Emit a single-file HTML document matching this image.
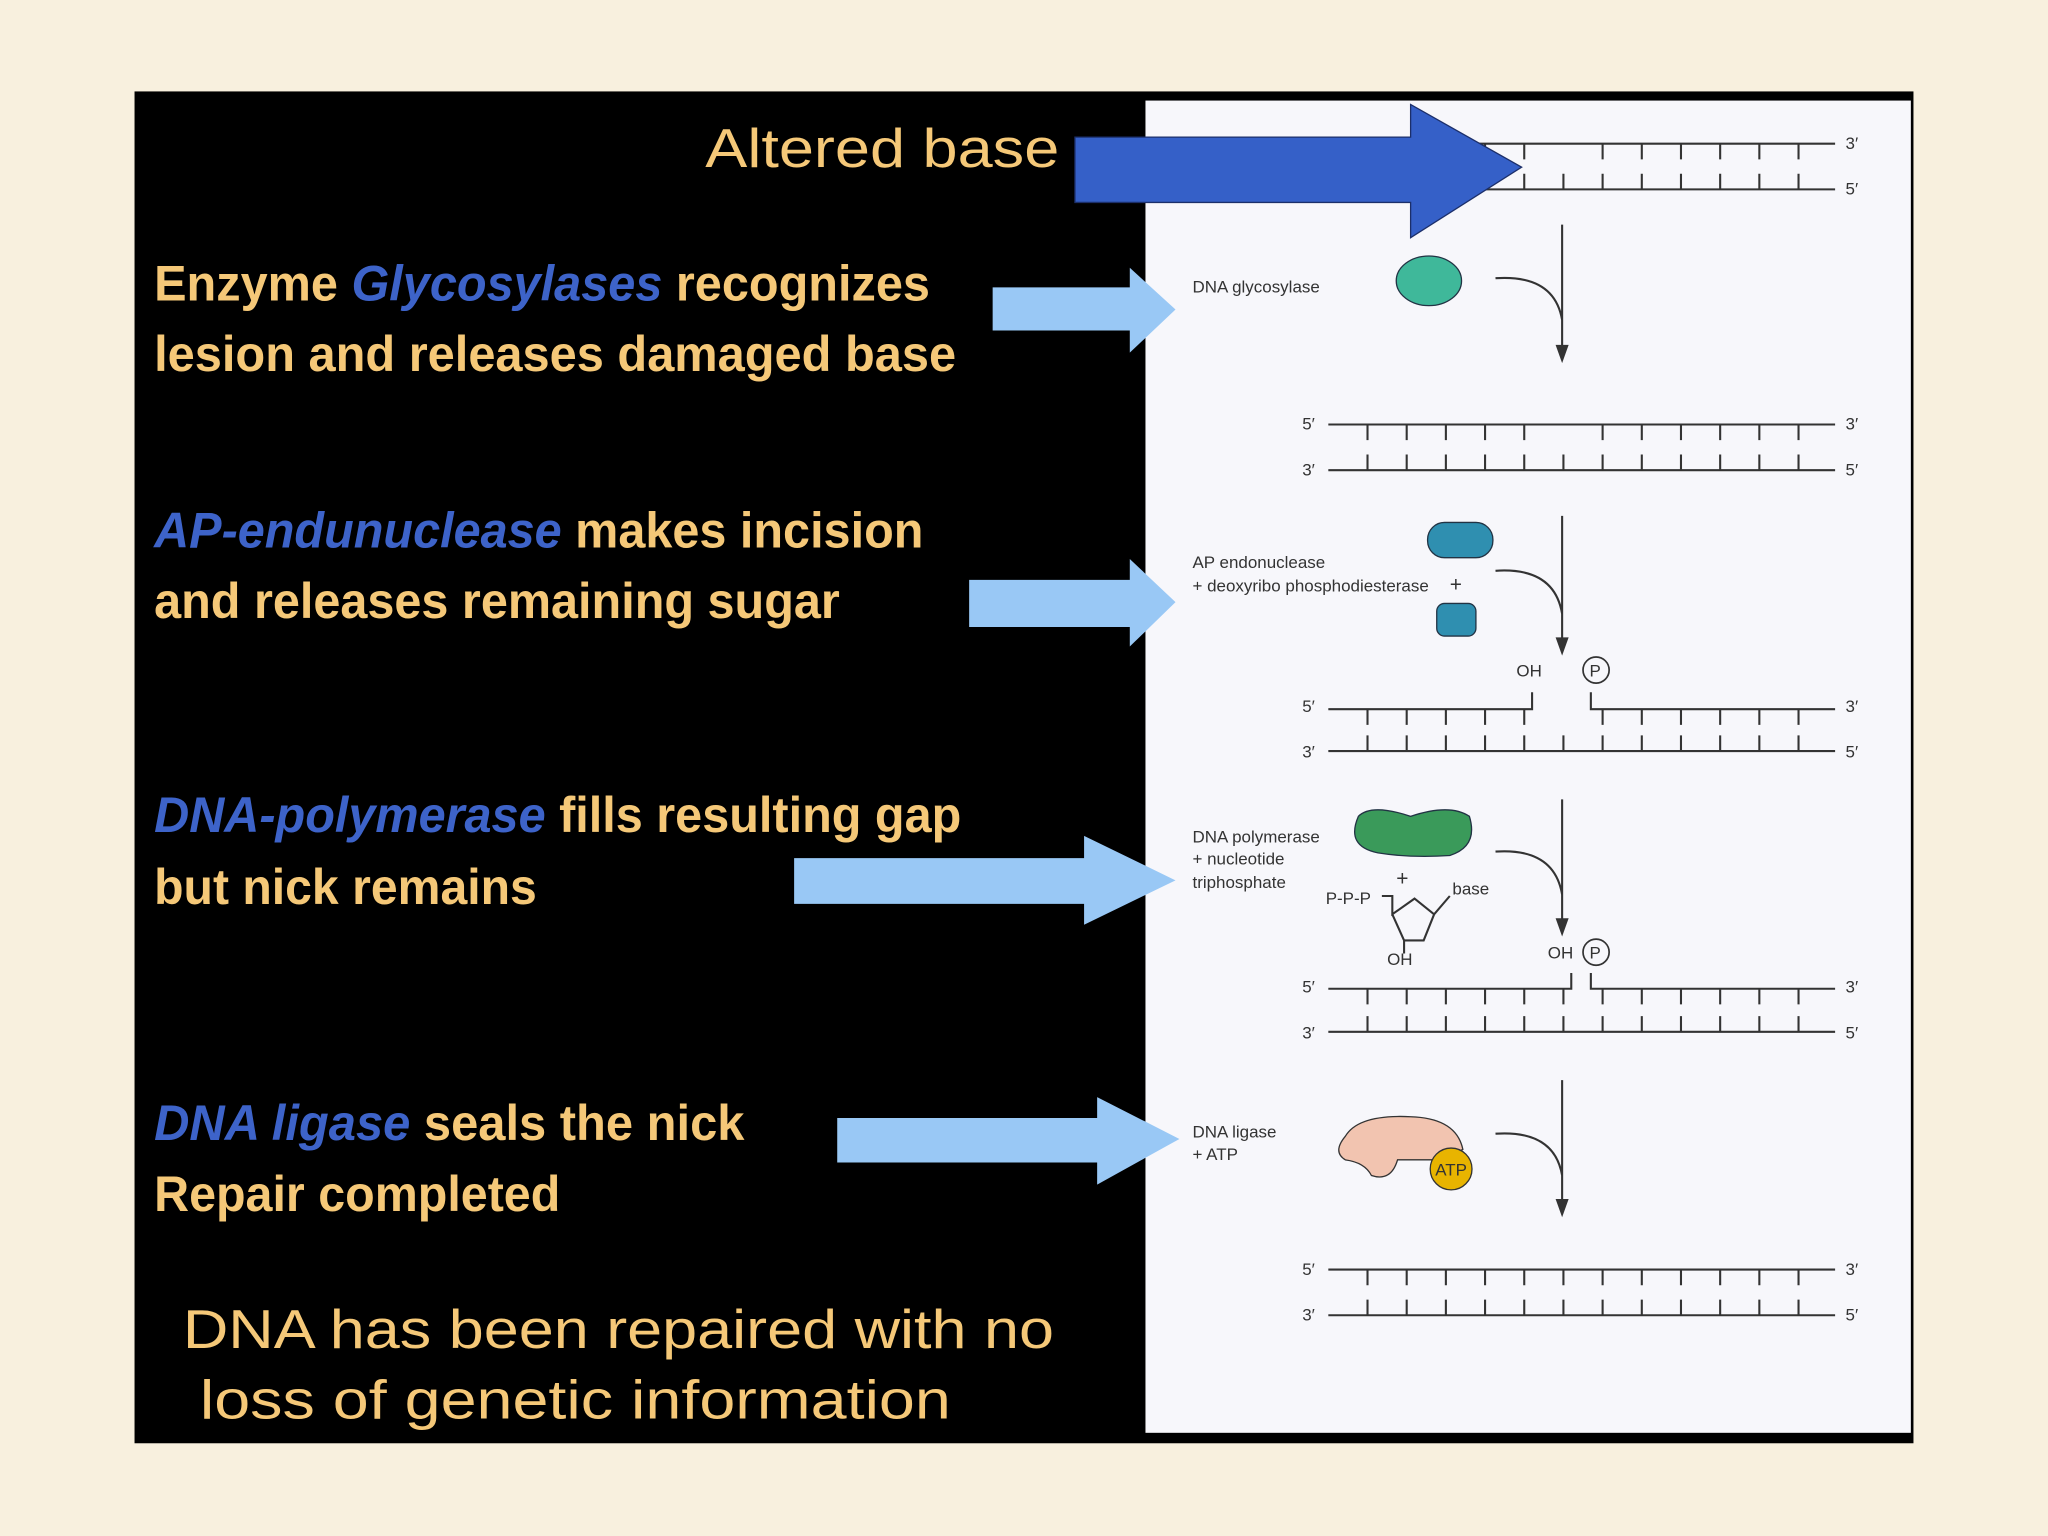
<!DOCTYPE html>
<html><head><meta charset="utf-8"><style>
html,body{margin:0;padding:0;background:#f8f0de;}
svg{display:block}
.h{font-family:"Liberation Sans",sans-serif;font-weight:bold;font-size:38px;fill:#f5c878}
.b{fill:#3d63c9;font-style:italic}
.n{font-family:"Liberation Sans",sans-serif;font-size:42px;fill:#f5c878}
.s{font-family:"Liberation Sans",sans-serif;font-size:13px;fill:#333}
.ln{stroke:#333;stroke-width:1.6;fill:none}
</style></head><body>
<svg width="2048" height="1536" viewBox="0 0 1568 1176" preserveAspectRatio="none">
<rect width="1568" height="1176" fill="#f8f0de"/>
<rect x="103" y="70" width="1362" height="1035" fill="#000"/>
<rect x="877" y="77" width="586" height="1020" fill="#f7f7fb"/>

<!-- DNA rows -->
<g class="ln">
<!-- row1 -->
<path d="M1000 110H1405M1000 145H1405"/>
<path d="M1047 110v12M1077 110v12M1107 110v12M1137 110v12M1167 110v12M1227 110v12M1257 110v12M1287 110v12M1317 110v12M1347 110v12M1377 110v12"/>
<path d="M1047 145v-12M1077 145v-12M1107 145v-12M1137 145v-12M1167 145v-12M1197 145v-12M1227 145v-12M1257 145v-12M1287 145v-12M1317 145v-12M1347 145v-12M1377 145v-12"/>
<!-- row2 -->
<path d="M1017 325H1405M1017 360H1405"/>
<path d="M1047 325v12M1077 325v12M1107 325v12M1137 325v12M1167 325v12M1227 325v12M1257 325v12M1287 325v12M1317 325v12M1347 325v12M1377 325v12"/>
<path d="M1047 360v-12M1077 360v-12M1107 360v-12M1137 360v-12M1167 360v-12M1197 360v-12M1227 360v-12M1257 360v-12M1287 360v-12M1317 360v-12M1347 360v-12M1377 360v-12"/>
<!-- row3 -->
<path d="M1017 543H1173V530M1218 530V543H1405M1017 575H1405"/>
<path d="M1047 543v12M1077 543v12M1107 543v12M1137 543v12M1167 543v12M1227 543v12M1257 543v12M1287 543v12M1317 543v12M1347 543v12M1377 543v12"/>
<path d="M1047 575v-12M1077 575v-12M1107 575v-12M1137 575v-12M1167 575v-12M1197 575v-12M1227 575v-12M1257 575v-12M1287 575v-12M1317 575v-12M1347 575v-12M1377 575v-12"/>
<!-- row4 -->
<path d="M1017 757H1203V745M1218 745V757H1405M1017 790H1405"/>
<path d="M1047 757v12M1077 757v12M1107 757v12M1137 757v12M1167 757v12M1197 757v12M1227 757v12M1257 757v12M1287 757v12M1317 757v12M1347 757v12M1377 757v12"/>
<path d="M1047 790v-12M1077 790v-12M1107 790v-12M1137 790v-12M1167 790v-12M1197 790v-12M1227 790v-12M1257 790v-12M1287 790v-12M1317 790v-12M1347 790v-12M1377 790v-12"/>
<!-- row5 -->
<path d="M1017 972H1405M1017 1007H1405"/>
<path d="M1047 972v12M1077 972v12M1107 972v12M1137 972v12M1167 972v12M1197 972v12M1227 972v12M1257 972v12M1287 972v12M1317 972v12M1347 972v12M1377 972v12"/>
<path d="M1047 1007v-12M1077 1007v-12M1107 1007v-12M1137 1007v-12M1167 1007v-12M1197 1007v-12M1227 1007v-12M1257 1007v-12M1287 1007v-12M1317 1007v-12M1347 1007v-12M1377 1007v-12"/>
<!-- reaction arrows -->
<path d="M1196 172V265M1145 213Q1190 210 1196 245"/>
<path d="M1196 395V490M1145 437Q1190 434 1196 470"/>
<path d="M1196 612V705M1145 652Q1190 649 1196 685"/>
<path d="M1196 827V920M1145 868Q1190 865 1196 900"/>
<!-- sugar -->
<path d="M1058 686H1066V700L1083 688L1098 700L1090 720H1075L1066 700M1098 700L1110 686M1075 720V730"/>
</g>
<g fill="#333">
<path d="M1191 264L1201 264L1196 278Z"/>
<path d="M1191 488L1201 488L1196 502Z"/>
<path d="M1191 703L1201 703L1196 717Z"/>
<path d="M1191 918L1201 918L1196 932Z"/>
</g>
<g class="s">
<text x="1413" y="114">3′</text><text x="1413" y="149">5′</text>
<text x="997" y="329">5′</text><text x="997" y="364">3′</text><text x="1413" y="329">3′</text><text x="1413" y="364">5′</text>
<text x="997" y="545">5′</text><text x="997" y="580">3′</text><text x="1413" y="545">3′</text><text x="1413" y="580">5′</text>
<text x="997" y="760">5′</text><text x="997" y="795">3′</text><text x="1413" y="760">3′</text><text x="1413" y="795">5′</text>
<text x="997" y="976">5′</text><text x="997" y="1011">3′</text><text x="1413" y="976">3′</text><text x="1413" y="1011">5′</text>
<text x="913" y="224">DNA glycosylase</text>
<text x="913" y="435">AP endonuclease</text>
<text x="913" y="453">+ deoxyribo phosphodiesterase</text><text x="1110" y="453" font-size="16">+</text>
<text x="1161" y="518">OH</text>
<text x="1217" y="518">P</text>
<text x="913" y="645">DNA polymerase</text>
<text x="913" y="662">+ nucleotide</text>
<text x="913" y="680">triphosphate</text>
<text x="1069" y="678" font-size="16">+</text>
<text x="1015" y="692">P-P-P</text>
<text x="1112" y="685">base</text>
<text x="1062" y="739">OH</text>
<text x="1185" y="734">OH</text>
<text x="1217" y="734">P</text>
<text x="913" y="871">DNA ligase</text>
<text x="913" y="888">+ ATP</text>
</g>
<circle cx="1222" cy="513" r="10" fill="none" stroke="#333" stroke-width="1.3"/>
<circle cx="1222" cy="729" r="10" fill="none" stroke="#333" stroke-width="1.3"/>

<!-- enzymes -->
<ellipse cx="1094" cy="215" rx="25" ry="19" fill="#3fb89a" stroke="#234" stroke-width="1"/>
<rect x="1093" y="400" width="50" height="27" rx="13" fill="#2f8fb0" stroke="#234" stroke-width="1"/>
<rect x="1100" y="462" width="30" height="25" rx="6" fill="#2f8fb0" stroke="#234" stroke-width="1"/>
<path d="M1040 625Q1050 615 1080 625Q1110 615 1125 625Q1132 648 1110 655Q1080 657 1055 653Q1030 648 1040 625Z" fill="#3a9a5a" stroke="#234" stroke-width="1"/>
<path d="M1030 870Q1040 853 1080 855Q1115 856 1120 880L1105 888L1070 888Q1065 905 1050 900Q1045 890 1030 888Q1020 882 1030 870Z" fill="#f2c4b0" stroke="#333" stroke-width="1"/>
<circle cx="1111" cy="895" r="16" fill="#e8b400" stroke="#333" stroke-width="1"/>
<text x="1111" y="900" text-anchor="middle" class="s" fill="#6a3a00" style="font-size:13px">ATP</text>

<!-- big blue arrow -->
<path d="M823 105H1080V80L1165 128L1080 182V155H823Z" fill="#3560c8" stroke="#1c2f6a" stroke-width="1"/>
<!-- light blue arrows -->
<g fill="#99c8f5">
<path d="M760 220H865V205L900 237L865 270V253H760Z"/>
<path d="M742 444H865V428L900 461L865 495V480H742Z"/>
<path d="M608 657H830V640L900 674L830 708V692H608Z"/>
<path d="M641 856H840V840L903 872L840 907V890H641Z"/>
</g>

<!-- text -->
<text x="540" y="128" class="n" textLength="271" lengthAdjust="spacingAndGlyphs">Altered base</text>
<text x="118" y="230" class="h" textLength="594" lengthAdjust="spacingAndGlyphs">Enzyme <tspan class="b">Glycosylases</tspan> recognizes</text>
<text x="118" y="284" class="h" textLength="614" lengthAdjust="spacingAndGlyphs">lesion and releases damaged base</text>
<text x="118" y="419" class="h" textLength="589" lengthAdjust="spacingAndGlyphs"><tspan class="b">AP-endunuclease</tspan> makes incision</text>
<text x="118" y="473" class="h" textLength="525" lengthAdjust="spacingAndGlyphs">and releases remaining sugar</text>
<text x="118" y="637" class="h" textLength="618" lengthAdjust="spacingAndGlyphs"><tspan class="b">DNA-polymerase</tspan> fills resulting gap</text>
<text x="118" y="692" class="h" textLength="293" lengthAdjust="spacingAndGlyphs">but nick remains</text>
<text x="118" y="873" class="h" textLength="452" lengthAdjust="spacingAndGlyphs"><tspan class="b">DNA ligase</tspan> seals the nick</text>
<text x="118" y="927" class="h" textLength="311" lengthAdjust="spacingAndGlyphs">Repair completed</text>
<text x="140" y="1032" class="n" textLength="667" lengthAdjust="spacingAndGlyphs">DNA has been repaired with no</text>
<text x="153" y="1086" class="n" textLength="575" lengthAdjust="spacingAndGlyphs">loss of genetic information</text>
</svg>
</body></html>
